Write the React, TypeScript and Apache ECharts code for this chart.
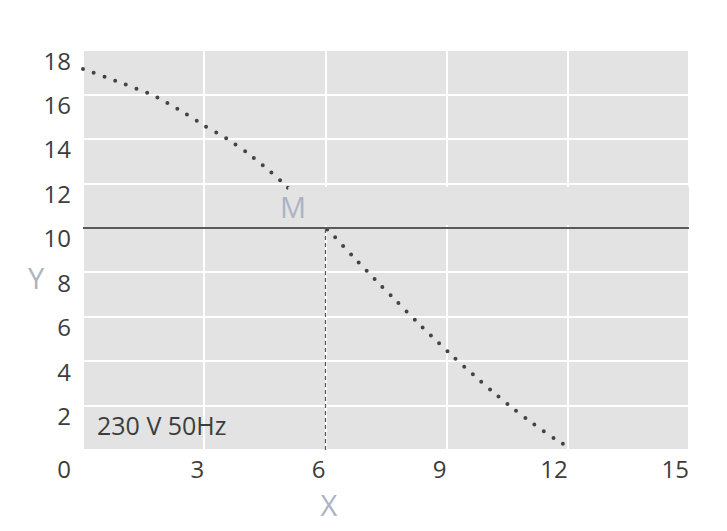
import { useEffect, useRef } from "react";
import * as echarts from "echarts";

// Axis ranges / ticks
const xMin = 0;
const xMax = 15;
const xStep = 3;
const yMin = 0;
const yMax = 18;
const yStep = 2;

// Pump curve (flow X vs head Y)
const curveX = [0, 0.9, 1.75, 2.48, 3.0, 3.55, 4.06, 4.55, 5.02, 5.5, 6.0, 6.22, 6.66, 7.33, 7.79, 8.24, 8.71, 9.18, 9.66, 10.15, 10.65, 11.16, 11.7, 12.05];
const curveY = [17.15, 16.55, 15.95, 15.2, 14.6, 14.02, 13.38, 12.66, 11.9, 10.95, 10.0, 9.61, 8.75, 7.48, 6.64, 5.81, 4.98, 4.17, 3.39, 2.61, 1.86, 1.16, 0.48, 0.1];

// Operating point and reference line
const operatingX = 6;
const operatingY = 10;
// masked band (label background) in data units
const maskFrom = [5.08, 10.12];
const maskTo = [15, 11.85];

const noteText = "230 V 50Hz";
const pointLabel = "M";
const xName = "X";
const yName = "Y";

const FONT = "'Open Sans', 'Noto Sans', sans-serif";
const LABEL_COLOR = "#3d3d3d";
const NAME_COLOR = "#abb4c4";
const BG = "#e3e3e3";
const OFF = 8; // body margin

export default function App() {
  const ref = useRef<HTMLDivElement>(null);
  useEffect(() => {
    if (!ref.current) return;
    const chart = echarts.init(ref.current, null, { renderer: "svg" });
    const curve = curveX.map((x, i) => [x, curveY[i]]);
    chart.setOption({
      animation: false,
      backgroundColor: "#ffffff",
      grid: {
        left: 83 - OFF,
        right: 38,
        top: 50 - OFF,
        bottom: 81,
        show: true,
        backgroundColor: BG,
        borderWidth: 0,
      },
      xAxis: {
        type: "value",
        min: xMin,
        max: xMax,
        interval: xStep,
        axisLine: { show: false },
        axisTick: { show: false },
        splitLine: { show: true, lineStyle: { color: "#ffffff", width: 2 } },
        axisLabel: {
          formatter: (v: number) => (v === 0 ? "" : String(v)),
          fontSize: 24,
          color: LABEL_COLOR,
          fontFamily: FONT,
          margin: 6,
          align: "right",
        },
      },
      yAxis: {
        type: "value",
        min: yMin,
        max: yMax,
        interval: yStep,
        axisLine: { show: false },
        axisTick: { show: false },
        splitLine: { show: true, lineStyle: { color: "#ffffff", width: 2 } },
        axisLabel: {
          formatter: (v: number) => (v === 0 ? "{z|0}" : "{n|" + v + "}"),
          fontSize: 24,
          color: LABEL_COLOR,
          fontFamily: FONT,
          margin: 12,
          verticalAlign: "top",
          rich: {
            n: { fontSize: 24, color: LABEL_COLOR, fontFamily: FONT, padding: [-2, 0, 0, 0] },
            z: { fontSize: 24, color: LABEL_COLOR, fontFamily: FONT, padding: [6, 0, 0, 0] },
          },
        },
      },
      series: [
        {
          type: "line",
          data: curve,
          z: 2,
          symbol: "none",
          smooth: 0.2,
          lineStyle: { color: "#444444", width: 4, type: [0, 11.4], cap: "round" },
        },
        {
          type: "scatter",
          data: [maskTo],
          symbolSize: 0,
          z: 3,
          silent: true,
          itemStyle: { opacity: 0 },
          markArea: {
            silent: true,
            z: 4,
            itemStyle: { color: BG, opacity: 1 },
            label: { show: false },
            data: [[{ coord: maskFrom }, { coord: maskTo }]],
          },
        },
        {
          type: "line",
          data: [],
          z: 5,
          silent: true,
          markLine: {
            silent: true,
            z: 6,
            symbol: "none",
            label: { show: false },
            lineStyle: { color: "#5a5a5a", width: 2, type: "solid" },
            data: [
              { yAxis: operatingY },
              [
                { coord: [operatingX, 0], lineStyle: { color: "#555555", width: 1.2, type: [4, 3] } },
                { coord: [operatingX, operatingY] },
              ],
            ],
          },
        },
      ],
      graphic: [
        {
          type: "text",
          z: 10,
          style: { text: noteText, x: 97 - OFF, y: 425 - OFF, verticalAlign: "middle", fontSize: 25, fill: LABEL_COLOR, fontFamily: FONT },
        },
        {
          type: "text",
          z: 10,
          style: { text: pointLabel, x: 293 - OFF, y: 206 - OFF, align: "center", verticalAlign: "middle", fontSize: 29, fill: NAME_COLOR, fontFamily: FONT },
        },
        {
          type: "text",
          z: 10,
          style: { text: yName, x: 36 - OFF, y: 277 - OFF, align: "center", verticalAlign: "middle", fontSize: 29, fill: NAME_COLOR, fontFamily: FONT },
        },
        {
          type: "text",
          z: 10,
          style: { text: xName, x: 329 - OFF, y: 504 - OFF, align: "center", verticalAlign: "middle", fontSize: 29, fill: NAME_COLOR, fontFamily: FONT },
        },
      ],
    });
    return () => chart.dispose();
  }, []);
  return <div ref={ref} style={{ width: 727 - OFF, height: 531 - OFF }} />;
}
